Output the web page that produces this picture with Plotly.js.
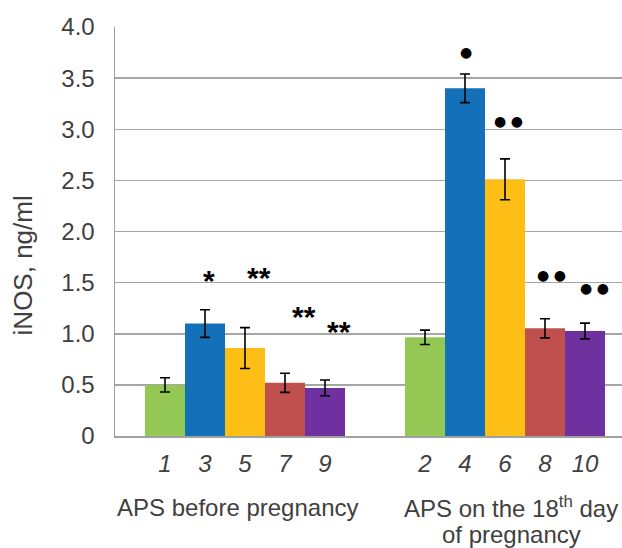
<!DOCTYPE html>
<html>
<head>
<meta charset="utf-8">
<script src="https://cdn.plot.ly/plotly-3.0.1.min.js"></script>
<style>html,body{margin:0;padding:0;background:#fff;}#chart{width:622px;height:548px;}</style>
</head>
<body>
<div id="chart"></div>
<script>
// ---- data ----
const beforeLabels = ['1', '3', '5', '7', '9'];
const duringLabels = ['2', '4', '6', '8', '10'];
const beforeValues = [0.50, 1.10, 0.86, 0.52, 0.47];
const beforeErrors = [0.07, 0.135, 0.20, 0.093, 0.077];
const duringValues = [0.965, 3.40, 2.51, 1.053, 1.027];
const duringErrors = [0.07, 0.14, 0.20, 0.093, 0.077];
const groupLine1 = ['APS before pregnancy', 'APS on the 18<sup>th</sup> day'];
const groupLine2 = ['', 'of pregnancy'];
const yTitle = 'iNOS, ng/ml';
const yTickVals = [0, 0.5, 1.0, 1.5, 2.0, 2.5, 3.0, 3.5, 4.0];
const yTickText = ['0', '0.5', '1.0', '1.5', '2.0', '2.5', '3.0', '3.5', '4.0'];
const sigText = ['*', '**', '**', '**', '●', '● ●', '● ●', '● ●'];
const sigX = [1.1, 2.35, 3.475, 4.35, 7.525, 8.59, 9.65, 10.74];
const sigY = [1.545, 1.565, 1.193, 1.046, 3.755, 3.081, 1.575, 1.447];

// ---- style ----
const colors = ['#92C853', '#1470B8', '#FDBE16', '#C0504D', '#7031A0'];
const groupOffset = 6.5;
const groupLabelX = [1.83, 8.65];
const textColor = '#404040';
const fontFamily = 'Liberation Sans, Arial, sans-serif';

const traces = colors.map((c, i) => ({
  type: 'bar',
  x: [i, i + groupOffset],
  y: [beforeValues[i], duringValues[i]],
  width: 1,
  marker: {color: c, line: {width: 0}},
  error_y: {type: 'data', array: [beforeErrors[i], duringErrors[i]], visible: true,
            color: '#000', thickness: 1.6, width: 5},
  hoverinfo: 'y',
  showlegend: false
}));

const tickVals = [];
const tickText = [];
beforeLabels.forEach((l, i) => { tickVals.push(i); tickText.push(l); });
duringLabels.forEach((l, i) => { tickVals.push(i + groupOffset); tickText.push(l); });

const annotations = sigText.map((t, i) => {
  const star = t.indexOf('*') >= 0;
  return {
    x: sigX[i], y: sigY[i], xref: 'x', yref: 'y', text: t, showarrow: false,
    xanchor: 'center', yanchor: 'middle',
    yshift: star ? -2 : 0,
    font: {family: star ? fontFamily : 'DejaVu Sans, sans-serif',
           size: star ? 30 : 14, color: '#000', weight: star ? 'bold' : 'normal'}
  };
});
groupLine1.forEach((t, i) => {
  annotations.push({
    x: groupLabelX[i], y: -0.1736, xref: 'x', yref: 'paper', text: t, showarrow: false,
    xanchor: 'center', yanchor: 'middle', font: {family: fontFamily, size: 24, color: textColor}
  });
  if (groupLine2[i]) annotations.push({
    x: groupLabelX[i], y: -0.241, xref: 'x', yref: 'paper', text: groupLine2[i], showarrow: false,
    xanchor: 'center', yanchor: 'middle', font: {family: fontFamily, size: 24, color: textColor}
  });
});
annotations.push({
  x: -0.1815, y: 0.417, xref: 'paper', yref: 'paper', text: yTitle, showarrow: false,
  textangle: -90, xanchor: 'center', yanchor: 'middle',
  font: {family: fontFamily, size: 26, color: textColor}
});

const layout = {
  width: 622, height: 548,
  margin: {l: 115, r: 0, t: 27, b: 112},
  paper_bgcolor: '#fff', plot_bgcolor: '#fff',
  barmode: 'overlay',
  font: {family: fontFamily, size: 24, color: textColor},
  xaxis: {
    range: [-1.25, 11.425], tickvals: tickVals, ticktext: tickText,
    tickfont: {family: fontFamily, size: 24, color: textColor, style: 'italic'},
    ticks: 'outside', ticklen: 6, tickcolor: 'rgba(0,0,0,0)',
    showgrid: false, zeroline: false, showline: true, linecolor: '#A0A0A0', linewidth: 1.5,
    fixedrange: true
  },
  yaxis: {
    range: [0, 4], tickvals: yTickVals, ticktext: yTickText,
    tickfont: {family: fontFamily, size: 24, color: textColor},
    ticks: 'outside', ticklen: 14, tickcolor: 'rgba(0,0,0,0)',
    showgrid: true, gridcolor: '#A6A6A6', gridwidth: 1.5,
    zeroline: false, showline: true, linecolor: '#A0A0A0', linewidth: 1.5,
    automargin: false, fixedrange: true
  },
  annotations: annotations
};

Plotly.newPlot('chart', traces, layout, {displayModeBar: false, staticPlot: true});
</script>
</body>
</html>
